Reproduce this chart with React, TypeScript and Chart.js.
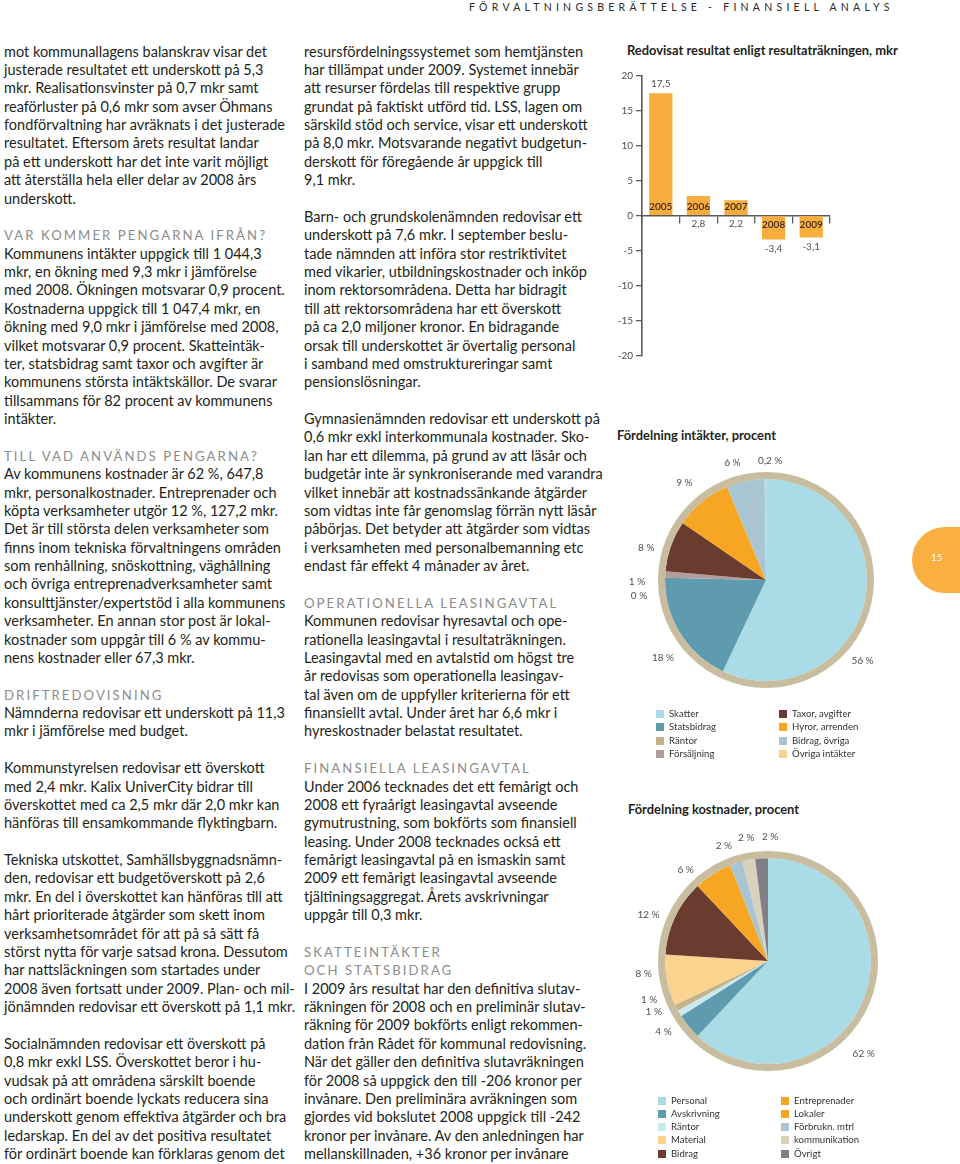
import React, { useEffect, useRef } from "react";
import { Chart, registerables } from "chart.js";

Chart.register(...registerables);

// ---------- DATA ----------
const resultYears = ["2005", "2006", "2007", "2008", "2009"];
const resultValues = [17.5, 2.8, 2.2, -3.4, -3.1];
const resultAxisMin = -20;
const resultAxisMax = 20;
const resultAxisStep = 5;

const intakterLabels = ["Skatter", "Statsbidrag", "Räntor", "Försäljning", "Taxor, avgifter", "Hyror, arrenden", "Bidrag, övriga", "Övriga intäkter"];
const intakterValues = [56, 18, 0, 1, 8, 9, 6, 0.2];

const kostnadLabels = ["Personal", "Avskrivning", "Räntor", "Bidrag", "Material", "Entreprenader", "Lokaler", "Förbrukn. mtrl", "kommunikation", "Övrigt"];
const kostnadValues = [62, 4, 1, 1, 8, 12, 6, 2, 2, 2];

const intakterLegend = ["Skatter", "Statsbidrag", "Räntor", "Försäljning", "Taxor, avgifter", "Hyror, arrenden", "Bidrag, övriga", "Övriga intäkter"];
const kostnadLegend = ["Personal", "Avskrivning", "Räntor", "Material", "Bidrag", "Entreprenader", "Lokaler", "Förbrukn. mtrl", "kommunikation", "Övrigt"];

// ---------- STYLES ----------
const LIGHTBLUE = "#a9dce7";
const TEAL = "#5f9bae";
const TAN = "#c3b38d";
const MAUVE = "#b19e9c";
const BROWN = "#6a3b2f";
const ORANGE = "#f6a623";
const GREYBLUE = "#a9c5d2";
const YELLOW = "#fbd38f";
const PALEBLUE = "#c9e8ef";
const BEIGE = "#d9d1bc";
const GREY = "#7f7f85";
const RING = "#c9bd9f";
const BAR = "#f8ad3d";
const AXIS = "#5a5a5c";

const intakterColors = [LIGHTBLUE, TEAL, TAN, MAUVE, BROWN, ORANGE, GREYBLUE, YELLOW];
const kostnadColors = [LIGHTBLUE, TEAL, PALEBLUE, TAN, YELLOW, BROWN, ORANGE, GREYBLUE, BEIGE, GREY];
const intakterLegendColors = [LIGHTBLUE, TEAL, TAN, MAUVE, BROWN, ORANGE, GREYBLUE, YELLOW];
const kostnadLegendColors = [LIGHTBLUE, TEAL, PALEBLUE, YELLOW, BROWN, ORANGE, ORANGE, GREYBLUE, BEIGE, GREY];

// label placement (degrees clockwise from top, distance from centre)
const intakterLabelAngles = [130, 233, 263, 269, 285, 320, 344, 2];
const intakterLabelDist = [126, 129, 128, 129, 124, 127, 122, 119];
const kostnadLabelAngles = [134, 236, 246, 252, 264, 291, 318, 339, 350, 1];
const kostnadLabelDist = [133, 126, 125, 125, 125, 128, 123, 123, 125, 124];

const FONT = "Lato, 'Open Sans', sans-serif";

// ---------- TEXT ----------
const col1: string[] = [
  "mot kommunallagens balanskrav visar det",
  "justerade resultatet ett underskott på 5,3",
  "mkr. Realisationsvinster på 0,7 mkr samt",
  "reaförluster på 0,6 mkr som avser Öhmans",
  "fondförvaltning har avräknats i det justerade",
  "resultatet. Eftersom årets resultat landar",
  "på ett underskott har det inte varit möjligt",
  "att återställa hela eller delar av 2008 års",
  "underskott.",
  "",
  "#VAR KOMMER PENGARNA IFRÅN?",
  "Kommunens intäkter uppgick till 1 044,3",
  "mkr, en ökning med 9,3 mkr i jämförelse",
  "med 2008. Ökningen motsvarar 0,9 procent.",
  "Kostnaderna uppgick till 1 047,4 mkr, en",
  "ökning med 9,0 mkr i jämförelse med 2008,",
  "vilket motsvarar 0,9 procent. Skatteintäk-",
  "ter, statsbidrag samt taxor och avgifter är",
  "kommunens största intäktskällor. De svarar",
  "tillsammans för 82 procent av kommunens",
  "intäkter.",
  "",
  "#TILL VAD ANVÄNDS PENGARNA?",
  "Av kommunens kostnader är 62 %, 647,8",
  "mkr, personalkostnader. Entreprenader och",
  "köpta verksamheter utgör 12 %, 127,2 mkr.",
  "Det är till största delen verksamheter som",
  "finns inom tekniska förvaltningens områden",
  "som renhållning, snöskottning, väghållning",
  "och övriga entreprenadverksamheter samt",
  "konsulttjänster/expertstöd i alla kommunens",
  "verksamheter. En annan stor post är lokal-",
  "kostnader som uppgår till 6 % av kommu-",
  "nens kostnader eller 67,3 mkr.",
  "",
  "#DRIFTREDOVISNING",
  "Nämnderna redovisar ett underskott på 11,3",
  "mkr i jämförelse med budget.",
  "",
  "Kommunstyrelsen redovisar ett överskott",
  "med 2,4 mkr. Kalix UniverCity bidrar till",
  "överskottet med ca 2,5 mkr där 2,0 mkr kan",
  "hänföras till ensamkommande flyktingbarn.",
  "",
  "Tekniska utskottet, Samhällsbyggnadsnämn-",
  "den, redovisar ett budgetöverskott på 2,6",
  "mkr. En del i överskottet kan hänföras till att",
  "hårt prioriterade åtgärder som skett inom",
  "verksamhetsområdet för att på så sätt få",
  "störst nytta för varje satsad krona. Dessutom",
  "har nattsläckningen som startades under",
  "2008 även fortsatt under 2009. Plan- och mil-",
  "jönämnden redovisar ett överskott på 1,1 mkr.",
  "",
  "Socialnämnden redovisar ett överskott på",
  "0,8 mkr exkl LSS. Överskottet beror i hu-",
  "vudsak på att områdena särskilt boende",
  "och ordinärt boende lyckats reducera sina",
  "underskott genom effektiva åtgärder och bra",
  "ledarskap. En del av det positiva resultatet",
  "för ordinärt boende kan förklaras genom det",
];

const col2: string[] = [
  "resursfördelningssystemet som hemtjänsten",
  "har tillämpat under 2009. Systemet innebär",
  "att resurser fördelas till respektive grupp",
  "grundat på faktiskt utförd tid. LSS, lagen om",
  "särskild stöd och service, visar ett underskott",
  "på 8,0 mkr. Motsvarande negativt budgetun-",
  "derskott för föregående år uppgick till",
  "9,1 mkr.",
  "",
  "Barn- och grundskolenämnden redovisar ett",
  "underskott på 7,6 mkr. I september beslu-",
  "tade nämnden att införa stor restriktivitet",
  "med vikarier, utbildningskostnader och inköp",
  "inom rektorsområdena. Detta har bidragit",
  "till att rektorsområdena har ett överskott",
  "på ca 2,0 miljoner kronor. En bidragande",
  "orsak till underskottet är övertalig personal",
  "i samband med omstruktureringar samt",
  "pensionslösningar.",
  "",
  "Gymnasienämnden redovisar ett underskott på",
  "0,6 mkr exkl interkommunala kostnader. Sko-",
  "lan har ett dilemma, på grund av att läsår och",
  "budgetår inte är synkroniserande med varandra",
  "vilket innebär att kostnadssänkande åtgärder",
  "som vidtas inte får genomslag förrän nytt läsår",
  "påbörjas. Det betyder att åtgärder som vidtas",
  "i verksamheten med personalbemanning etc",
  "endast får effekt 4 månader av året.",
  "",
  "#OPERATIONELLA LEASINGAVTAL",
  "Kommunen redovisar hyresavtal och ope-",
  "rationella leasingavtal i resultaträkningen.",
  "Leasingavtal med en avtalstid om högst tre",
  "år redovisas som operationella leasingav-",
  "tal även om de uppfyller kriterierna för ett",
  "finansiellt avtal. Under året har 6,6 mkr i",
  "hyreskostnader belastat resultatet.",
  "",
  "#FINANSIELLA LEASINGAVTAL",
  "Under 2006 tecknades det ett femårigt och",
  "2008 ett fyraårigt leasingavtal avseende",
  "gymutrustning, som bokförts som finansiell",
  "leasing. Under 2008 tecknades också ett",
  "femårigt leasingavtal på en ismaskin samt",
  "2009 ett femårigt leasingavtal avseende",
  "tjältiningsaggregat. Årets avskrivningar",
  "uppgår till 0,3 mkr.",
  "",
  "#SKATTEINTÄKTER",
  "#OCH STATSBIDRAG",
  "I 2009 års resultat har den definitiva slutav-",
  "räkningen för 2008 och en preliminär slutav-",
  "räkning för 2009 bokförts enligt rekommen-",
  "dation från Rådet för kommunal redovisning.",
  "När det gäller den definitiva slutavräkningen",
  "för 2008 så uppgick den till -206 kronor per",
  "invånare. Den preliminära avräkningen som",
  "gjordes vid bokslutet 2008 uppgick till -242",
  "kronor per invånare. Av den anledningen har",
  "mellanskillnaden, +36 kronor per invånare",
];

const fmt = (v: number) => String(v).replace(".", ",");

// ---------- PLUGINS ----------
const barLabelPlugin = {
  id: "barLabels",
  afterDatasetsDraw(chart: any) {
    const ctx = chart.ctx;
    const meta = chart.getDatasetMeta(0);
    const zero = chart.scales.y.getPixelForValue(0);
    const values = chart.data.datasets[0].data as number[];
    const labels = chart.data.labels as string[];
    meta.data.forEach((bar: any, i: number) => {
      const v = values[i];
      const { x, y } = bar.getProps(["x", "y"], true);
      ctx.save();
      ctx.textAlign = "center";
      ctx.textBaseline = "middle";
      ctx.font = `600 10px ${FONT}`;
      ctx.fillStyle = "#3b2a1c";
      ctx.fillText(labels[i], x, v >= 0 ? zero - 9 : zero + 9);
      ctx.font = `10px ${FONT}`;
      ctx.fillStyle = "#505050";
      let vy: number;
      if (v >= 10) vy = y - 9;
      else if (v >= 0) vy = zero + 8;
      else vy = y + 9;
      ctx.fillText(fmt(v), x, vy);
      ctx.restore();
    });
  },
};

const pieLabelPlugin = {
  id: "pieLabels",
  afterDatasetsDraw(chart: any, _args: any, opts: any) {
    const ctx = chart.ctx;
    const ring = chart.getDatasetMeta(0).data[0];
    const { x: cx, y: cy } = ring.getProps(["x", "y"], true);
    const meta = chart.getDatasetMeta(1);
    const values = chart.data.datasets[1].data as number[];
    ctx.save();
    ctx.font = `10px ${FONT}`;
    ctx.fillStyle = "#505050";
    ctx.textAlign = "center";
    ctx.textBaseline = "middle";
    meta.data.forEach((arc: any, i: number) => {
      const { startAngle, endAngle } = arc.getProps(["startAngle", "endAngle"], true);
      let a = (startAngle + endAngle) / 2 + Math.PI / 2;
      if (opts.angles && opts.angles[i] != null) a = (opts.angles[i] * Math.PI) / 180;
      const r = opts.dist ? opts.dist[i] : 125;
      ctx.fillText(fmt(values[i]) + " %", cx + r * Math.sin(a), cy - r * Math.cos(a));
    });
    ctx.restore();
  },
};

// ---------- COMPONENTS ----------
function BarChart() {
  const ref = useRef<HTMLCanvasElement>(null);
  useEffect(() => {
    const chart = new Chart(ref.current!, {
      type: "bar",
      data: {
        labels: resultYears,
        datasets: [
          {
            data: resultValues,
            backgroundColor: BAR,
            borderWidth: 0,
            categoryPercentage: 1,
            barPercentage: 0.62,
          },
        ],
      },
      options: {
        animation: false,
        responsive: false,
        events: [],
        layout: { padding: { top: 45.7, bottom: 24.3, left: 0, right: 130 } },
        plugins: { legend: { display: false }, tooltip: { enabled: false } },
        scales: {
          x: {
            type: "category",
            position: { y: 0 } as any,
            offset: true,
            afterFit: (s: any) => {
              s.height = 0;
            },
            ticks: { display: false },
            grid: { drawOnChartArea: false, drawTicks: true, tickLength: 7, color: AXIS, lineWidth: 1.3, offset: true },
            border: { display: true, color: AXIS, width: 1.6 },
          },
          y: {
            min: resultAxisMin,
            max: resultAxisMax,
            afterFit: (s: any) => {
              s.width = 42;
            },
            ticks: { stepSize: resultAxisStep, color: "#4d4d4d", font: { family: FONT, size: 10 }, padding: 3 },
            grid: { drawOnChartArea: false, drawTicks: true, tickLength: 6, color: AXIS, lineWidth: 1.3 },
            border: { display: true, color: AXIS, width: 1.6 },
          },
        },
      } as any,
      plugins: [barLabelPlugin],
    });
    return () => chart.destroy();
  }, []);
  return <canvas ref={ref} width={360} height={350} style={{ position: "absolute", left: 600, top: 30, width: 360, height: 350 }} />;
}

function PieChart(props: {
  labels: string[];
  values: number[];
  colors: string[];
  angles: number[];
  dist: number[];
  left: number;
  top: number;
  pad: number;
}) {
  const ref = useRef<HTMLCanvasElement>(null);
  useEffect(() => {
    const chart = new Chart(ref.current!, {
      type: "pie",
      data: {
        labels: props.labels,
        datasets: [
          { data: [1], backgroundColor: [RING], borderWidth: 0, hoverOffset: 0, weight: 7 } as any,
          { data: props.values, backgroundColor: props.colors, borderWidth: 0, hoverOffset: 0, weight: 101 } as any,
        ],
      },
      options: {
        animation: false,
        responsive: false,
        events: [],
        layout: { padding: props.pad },
        plugins: {
          legend: { display: false },
          tooltip: { enabled: false },
          pieLabels: { angles: props.angles, dist: props.dist },
        },
      } as any,
      plugins: [pieLabelPlugin],
    });
    return () => chart.destroy();
  }, []);
  return (
    <canvas
      ref={ref}
      width={300}
      height={300}
      style={{ position: "absolute", left: props.left, top: props.top, width: 300, height: 300 }}
    />
  );
}

function Legend(props: { labels: string[]; colors: string[]; left1: number; left2: number; top: number; rows: number; step: number }) {
  return (
    <>
      {props.labels.map((l, i) => {
        const col = i < props.rows ? 0 : 1;
        const row = col === 0 ? i : i - props.rows;
        const left = col === 0 ? props.left1 : props.left2;
        const cy = props.top + row * props.step;
        return (
          <div key={i} style={{ position: "absolute", left, top: cy - 7, height: 14, display: "flex", alignItems: "center" }}>
            <div style={{ width: 8, height: 8, background: props.colors[i], marginRight: 5 }} />
            <span style={{ fontFamily: FONT, fontSize: 9.6, color: "#333", whiteSpace: "nowrap", lineHeight: "14px" }}>{l}</span>
          </div>
        );
      })}
    </>
  );
}

function Column(props: { lines: string[]; left: number; top: number }) {
  return (
    <div style={{ position: "absolute", left: props.left, top: props.top }}>
      {props.lines.map((l, i) => {
        const heading = l.startsWith("#");
        return (
          <div
            key={i}
            style={{
              height: 18.38,
              lineHeight: "18.38px",
              whiteSpace: "nowrap",
              fontFamily: FONT,
              fontSize: heading ? 13.2 : 14.5,
              letterSpacing: heading ? "2.05px" : "0px",
              color: heading ? "#8c8c8c" : "#231f20",
            }}
          >
            {heading ? l.slice(1) : l || "\u00a0"}
          </div>
        );
      })}
    </div>
  );
}

const titleStyle: React.CSSProperties = {
  position: "absolute",
  fontFamily: FONT,
  fontWeight: 700,
  fontSize: 12.9,
  color: "#231f20",
  whiteSpace: "nowrap",
  lineHeight: "15px",
};

export default function App() {
  return (
    <div
      style={{
        position: "absolute",
        left: 0,
        top: 0,
        width: 960,
        height: 1164,
        overflow: "hidden",
        background: "#fff",
      }}
    >
      <div
        style={{
          position: "absolute",
          left: 469,
          top: 1,
          fontFamily: FONT,
          fontSize: 10.5,
          lineHeight: "12px",
          letterSpacing: "4.25px",
          color: "#2a2a2a",
          whiteSpace: "nowrap",
        }}
      >
        FÖRVALTNINGSBERÄTTELSE - FINANSIELL ANALYS
      </div>

      <Column lines={col1} left={4} top={42.5} />
      <Column lines={col2} left={304} top={42.5} />

      <div style={{ ...titleStyle, left: 627, top: 43 }}>Redovisat resultat enligt resultaträkningen, mkr</div>
      <BarChart />

      <div style={{ ...titleStyle, left: 617, top: 428 }}>Fördelning intäkter, procent</div>
      <PieChart
        labels={intakterLabels}
        values={intakterValues}
        colors={intakterColors}
        angles={intakterLabelAngles}
        dist={intakterLabelDist}
        left={616}
        top={430}
        pad={42}
      />
      <Legend labels={intakterLegend} colors={intakterLegendColors} left1={656} left2={779} top={714} rows={4} step={13.3} />

      <div style={{ ...titleStyle, left: 628, top: 801.5 }}>Fördelning kostnader, procent</div>
      <PieChart
        labels={kostnadLabels}
        values={kostnadValues}
        colors={kostnadColors}
        angles={kostnadLabelAngles}
        dist={kostnadLabelDist}
        left={618}
        top={811}
        pad={40}
      />
      <Legend labels={kostnadLegend} colors={kostnadLegendColors} left1={658} left2={781} top={1100.7} rows={5} step={13.2} />

      <div
        style={{
          position: "absolute",
          left: 912,
          top: 527,
          width: 80,
          height: 66,
          borderRadius: 33,
          background: "#f9b041",
        }}
      />
      <div style={{ position: "absolute", left: 931, top: 551, fontFamily: FONT, fontSize: 10, color: "#fff", lineHeight: "12px" }}>15</div>
    </div>
  );
}
